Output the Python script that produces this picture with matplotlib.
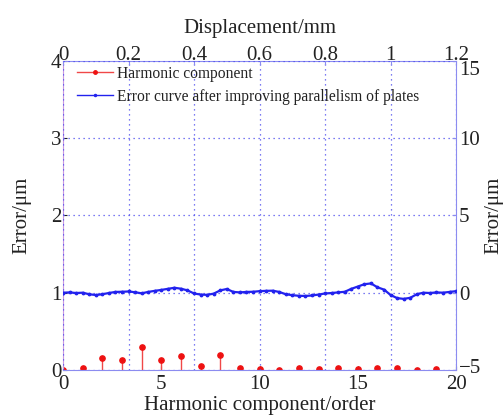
import matplotlib
matplotlib.use('Agg')
import matplotlib.pyplot as plt
import matplotlib.transforms as mtransforms
from matplotlib.lines import Line2D
import numpy as np

# data
orders = list(range(20))
harmonic = [0.0, 0.03, 0.16, 0.13, 0.30, 0.13, 0.18, 0.056, 0.19, 0.02,
            0.013, 0.0, 0.03, 0.013, 0.03, 0.008, 0.03, 0.02, 0.0, 0.013]

displacement = [0.00, 0.02, 0.04, 0.06, 0.08, 0.10, 0.12, 0.14, 0.16, 0.18,
                0.20, 0.22, 0.24, 0.26, 0.28, 0.30, 0.32, 0.34, 0.36, 0.38,
                0.40, 0.42, 0.44, 0.46, 0.48, 0.50, 0.52, 0.54, 0.56, 0.58,
                0.60, 0.62, 0.64, 0.66, 0.68, 0.70, 0.72, 0.74, 0.76, 0.78,
                0.80, 0.82, 0.84, 0.86, 0.88, 0.90, 0.92, 0.94, 0.96, 0.98,
                1.00, 1.02, 1.04, 1.06, 1.08, 1.10, 1.12, 1.14, 1.16, 1.18, 1.20]
error_curve = [0.00, 0.02, -0.02, 0.00, -0.10, -0.15, -0.10, -0.02, 0.05, 0.06,
               0.08, 0.03, -0.04, 0.05, 0.12, 0.18, 0.25, 0.32, 0.26, 0.15,
               -0.05, -0.12, -0.14, -0.06, 0.15, 0.24, 0.05, 0.02, 0.05, 0.06,
               0.10, 0.12, 0.13, 0.05, -0.10, -0.16, -0.20, -0.21, -0.18, -0.12,
               -0.05, -0.02, 0.02, 0.06, 0.25, 0.40, 0.55, 0.60, 0.35, 0.20,
               -0.15, -0.35, -0.40, -0.33, -0.10, 0.00, -0.02, 0.02, 0.00, 0.05, 0.10]

bottom_ticks = [0, 5, 10, 15, 20]
left_ticks = [0, 1, 2, 3, 4]
top_ticks = [0, 0.2, 0.4, 0.6, 0.8, 1.0, 1.2]
top_labels = ['0', '0.2', '0.4', '0.6', '0.8', '1', '1.2']
right_ticks = [-5, 0, 5, 10, 15]
right_labels = ['\u22125', '0', '5', '10', '15']

plt.rcParams['font.family'] = ['Liberation Serif', 'DejaVu Serif']

RED = '#ee1111'
BLUE = '#2222ee'
SPINE_BLUE = '#8c8cf0'
TXT = '#222222'

fig = plt.figure(figsize=(5.04, 4.18), dpi=100)
pos = [0.125, 0.115, 0.78, 0.739]

ax1 = fig.add_axes(pos)
ax1.set_xlim(0, 20)
ax1.set_ylim(0, 4)
markerline, stemlines, baseline = ax1.stem(orders, harmonic, basefmt=' ')
plt.setp(stemlines, color='#f04848', linewidth=1.0)
plt.setp(markerline, color=RED, marker='o', markersize=3.8)
ax1.set_xticks(bottom_ticks)
ax1.set_yticks(left_ticks)
ax1.tick_params(direction='in', length=3, labelsize=15, colors=TXT)
ax1.tick_params(axis='x', pad=4)
ax1.tick_params(axis='y', pad=1)
ax1.set_xlabel('Harmonic component/order', fontsize=15, color=TXT, labelpad=1)
ax1.set_ylabel('Error/\u03bcm', fontsize=15, color=TXT, labelpad=14)
for s in ax1.spines.values():
    s.set_color(SPINE_BLUE)
ax1.spines['left'].set_color('#c898e0')

ax2 = fig.add_axes(pos, frameon=False)
ax2.patch.set_visible(False)
ax2.plot(displacement, error_curve, color=BLUE, linewidth=1.6,
         marker='.', markersize=3.5)
ax2.set_xlim(0, 1.2)
ax2.set_ylim(-5, 15)
ax2.xaxis.tick_top()
ax2.xaxis.set_label_position('top')
ax2.yaxis.tick_right()
ax2.yaxis.set_label_position('right')
ax2.set_xticks(top_ticks)
ax2.set_xticklabels(top_labels)
ax2.set_yticks(right_ticks)
ax2.set_yticklabels(right_labels)
ax2.tick_params(direction='in', length=3, labelsize=15, colors=TXT)
ax2.tick_params(axis='x', pad=-2.5)
ax2.tick_params(axis='y', pad=2)
ax2.tick_params(axis='both', color=SPINE_BLUE)
# 15 sits a little lower and -5 a little higher, like the reference
ytl = ax2.get_yticklabels()
ytl[-1].set_va('top')
ytl[0].set_transform(ytl[0].get_transform() +
                     mtransforms.ScaledTranslation(0, 3 / 72, fig.dpi_scale_trans))
ax2.grid(True, color='#5050ee', linestyle=(0, (1, 3)), linewidth=0.9)
ax2.set_xlabel('Displacement/mm', fontsize=15, color=TXT, labelpad=9)
ax2.set_ylabel('Error/\u03bcm', fontsize=15, color=TXT, labelpad=2)

handles = [Line2D([], [], color='#f04848', linewidth=1.0, marker='o',
                  markersize=2.5, markerfacecolor=RED, markeredgecolor=RED),
           Line2D([], [], color=BLUE, linewidth=1.0, marker='.',
                  markersize=3)]
labels = ['Harmonic component', 'Error curve after improving parallelism of plates']
leg = ax2.legend(handles, labels, loc='upper left', bbox_to_anchor=(0.0, 1.03),
                 frameon=False, fontsize=11.2, handlelength=2.3, handletextpad=0.3,
                 labelspacing=0.45, numpoints=1)
for t in leg.get_texts():
    t.set_color(TXT)

fig.savefig('out.png', dpi=100)
